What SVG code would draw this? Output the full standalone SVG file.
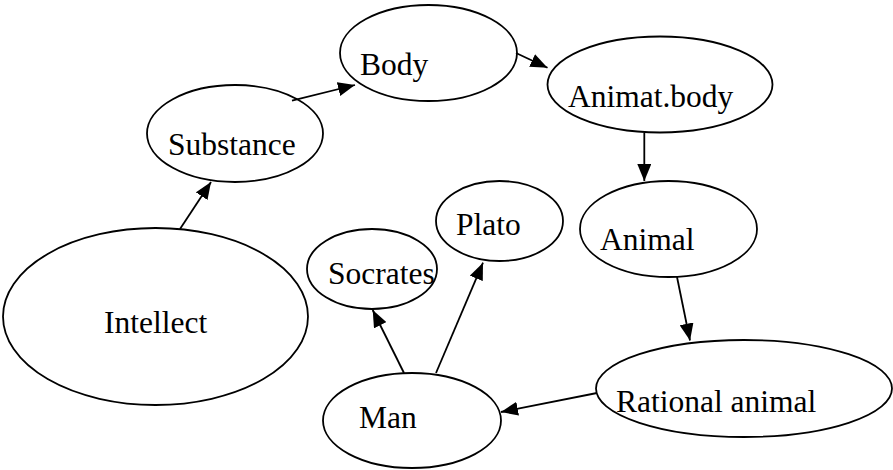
<svg xmlns="http://www.w3.org/2000/svg" width="893" height="470" viewBox="0 0 893 470">
<style>
.n ellipse{fill:#fff;stroke:#000;stroke-width:1.8}
.n text{font-family:'Liberation Serif','Times New Roman',serif;font-size:31.5px;fill:#000}
.c line{stroke:#000;stroke-width:1.8;marker-end:url(#ah)}
</style>
<defs>
<marker id="ah" markerUnits="userSpaceOnUse" markerWidth="18" markerHeight="14" viewBox="0 0 18 14" refX="17" refY="7" orient="auto">
<path d="M0,0 L17,7 L0,14 Z" fill="#000"/>
</marker>
</defs>
<rect width="893" height="470" fill="#fff"/>
<g id="intellect" class="n"><ellipse cx="155.5" cy="316.5" rx="152.5" ry="88.5"/><text x="104" y="333">Intellect</text></g>
<g id="substance" class="n"><ellipse cx="235" cy="133.5" rx="88" ry="48.5"/><text x="168" y="155">Substance</text></g>
<g id="body" class="n"><ellipse cx="428.5" cy="53" rx="88.5" ry="48"/><text x="360" y="75">Body</text></g>
<g id="animatbody" class="n"><ellipse cx="660" cy="84.5" rx="112.5" ry="48"/><text x="568" y="107">Animat.body</text></g>
<g id="animal" class="n"><ellipse cx="668.5" cy="229" rx="88.5" ry="48"/><text x="600" y="250">Animal</text></g>
<g id="rational" class="n"><ellipse cx="744" cy="388.5" rx="148" ry="48.5"/><text x="616" y="412">Rational animal</text></g>
<g id="man" class="n"><ellipse cx="412" cy="420.5" rx="89" ry="47.5"/><text x="359" y="428">Man</text></g>
<g id="socrates" class="n"><ellipse cx="372" cy="269" rx="65" ry="40"/><text x="328" y="284">Socrates</text></g>
<g id="plato" class="n"><ellipse cx="499.5" cy="221" rx="63.5" ry="40"/><text x="456" y="235">Plato</text></g>
<g id="connectors" class="c">
<line x1="180" y1="229" x2="211" y2="182"/>
<line x1="292" y1="100.7" x2="355" y2="85"/>
<line x1="516" y1="53" x2="547.5" y2="67.7"/>
<line x1="644.3" y1="133" x2="644.3" y2="181"/>
<line x1="677" y1="277" x2="690" y2="340.5"/>
<line x1="597" y1="393" x2="501" y2="412"/>
<line x1="404" y1="373" x2="372.7" y2="310"/>
<line x1="436" y1="373" x2="483" y2="262.7"/>
</g>
</svg>
